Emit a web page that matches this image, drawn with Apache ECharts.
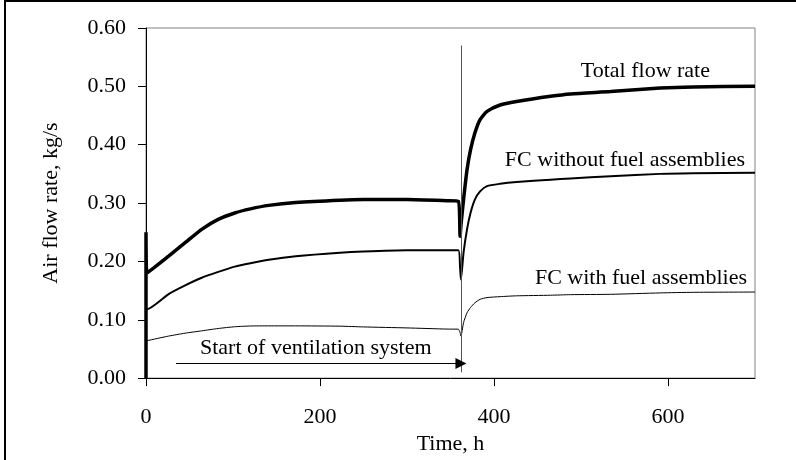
<!DOCTYPE html>
<html>
<head>
<meta charset="utf-8">
<script src="https://cdn.jsdelivr.net/npm/echarts@6/dist/echarts.min.js"></script>
<style>html,body{margin:0;padding:0;background:#fff}#c{width:796px;height:460px}</style>
</head>
<body>
<div id="c"></div>
<script>
// ---- data ----
var hours = [0, 0, 1, 26, 45, 64, 83, 102, 120, 141, 172, 223, 250, 300, 346, 359, 361, 362, 365, 369, 373, 378, 384, 392, 407, 426, 465, 488, 534, 591, 629, 700];
var totalFlow = [0, 0.25, 0.18, 0.209, 0.232, 0.255, 0.272, 0.283, 0.290, 0.296, 0.301, 0.305, 0.306, 0.306, 0.304, 0.303, 0.243, 0.262, 0.306, 0.357, 0.391, 0.420, 0.443, 0.457, 0.468, 0.474, 0.483, 0.487, 0.491, 0.497, 0.499, 0.500];
var fcWithout = [0.118, 0.118, 0.118, 0.144, 0.159, 0.172, 0.182, 0.191, 0.197, 0.203, 0.209, 0.215, 0.217, 0.219, 0.219, 0.219, 0.190, 0.169, 0.215, 0.255, 0.283, 0.306, 0.320, 0.329, 0.333, 0.336, 0.340, 0.342, 0.346, 0.350, 0.351, 0.352];
var fcWith = [0.063, 0.063, 0.064, 0.072, 0.077, 0.081, 0.085, 0.088, 0.0893, 0.0895, 0.0895, 0.089, 0.0877, 0.086, 0.084, 0.0838, 0.078, 0.072, 0.095, 0.112, 0.121, 0.129, 0.135, 0.138, 0.1396, 0.141, 0.142, 0.143, 0.1436, 0.146, 0.147, 0.1475];
var seriesNames = ['Total flow rate', 'FC without fuel assemblies', 'FC with fuel assemblies'];
var xTicks = [0, 200, 400, 600];
var switchHour = 362;
var arrowStartHour = 34.5;
var arrowLevel = 0.025;
var annotationText = 'Start of ventilation system';

function pairs(v) { return hours.map(function (h, i) { return [h, v[i]]; }); }

var FONT = '"Liberation Serif", "Times New Roman", serif';
var chart = echarts.init(document.getElementById('c'), null, {renderer: 'canvas'});
chart.setOption({
  animation: false,
  backgroundColor: '#fff',
  grid: {left: 146, top: 28, right: 41, bottom: 81, show: true, borderColor: '#808080', borderWidth: 1, backgroundColor: 'transparent'},
  xAxis: {
    type: 'value', min: 0, max: 700, interval: 200,
    name: 'Time, h', nameLocation: 'middle', nameGap: 50,
    nameTextStyle: {fontFamily: FONT, fontSize: 22, color: '#000'},
    axisLine: {show: true, lineStyle: {color: '#000', width: 1}},
    axisTick: {show: true, length: 8, lineStyle: {color: '#000'}, customValues: xTicks},
    axisLabel: {fontFamily: FONT, fontSize: 22, color: '#000', margin: 28, customValues: xTicks},
    splitLine: {show: false}
  },
  yAxis: {
    type: 'value', min: 0, max: 0.6, interval: 0.1,
    name: 'Air flow rate, kg/s', nameLocation: 'middle', nameGap: 84,
    nameTextStyle: {fontFamily: FONT, fontSize: 22, color: '#000'},
    axisLine: {show: true, lineStyle: {color: '#000', width: 1}},
    axisTick: {show: true, length: 8, lineStyle: {color: '#000'}},
    axisLabel: {fontFamily: FONT, fontSize: 22, color: '#000', margin: 20, padding: [5, 0, 0, 0], formatter: function (v) { return v.toFixed(2); }},
    splitLine: {show: false}
  },
  series: [
    {
      name: seriesNames[0], type: 'line', data: pairs(totalFlow), showSymbol: false, smooth: 0.2,
      lineStyle: {color: '#000', width: 3.5}, silent: true,
      markLine: {
        silent: true, symbol: ['none', 'none'], label: {show: false},
        lineStyle: {color: '#555', width: 1, type: 'solid'},
        data: [[{coord: [switchHour, 0.01]}, {coord: [switchHour, 0.57]}]]
      }
    },
    {
      name: seriesNames[1], type: 'line', data: pairs(fcWithout), showSymbol: false, smooth: 0.2,
      lineStyle: {color: '#000', width: 2}, silent: true,
      markLine: {
        silent: true, symbol: ['none', 'triangle'], symbolSize: [11, 11], label: {show: false},
        lineStyle: {color: '#000', width: 1, type: 'solid'},
        data: [[{coord: [arrowStartHour, arrowLevel]}, {coord: [switchHour, arrowLevel]}]]
      }
    },
    {
      name: seriesNames[2], type: 'line', data: pairs(fcWith), showSymbol: false, smooth: 0.2,
      lineStyle: {color: '#000', width: 1}, silent: true
    }
  ],
  graphic: [
    {type: 'line', shape: {x1: 5, y1: 0, x2: 5, y2: 460}, style: {stroke: '#000', lineWidth: 2}},
    {type: 'line', shape: {x1: 4, y1: 1, x2: 796, y2: 1}, style: {stroke: '#000', lineWidth: 2}},
    {type: 'text', x: 710, y: 71, style: {text: seriesNames[0], font: '22px ' + FONT, fill: '#000', textAlign: 'right', textVerticalAlign: 'middle'}},
    {type: 'text', x: 745, y: 160, style: {text: seriesNames[1], font: '22px ' + FONT, fill: '#000', textAlign: 'right', textVerticalAlign: 'middle'}},
    {type: 'text', x: 747, y: 278, style: {text: seriesNames[2], font: '22px ' + FONT, fill: '#000', textAlign: 'right', textVerticalAlign: 'middle'}},
    {type: 'text', x: 200, y: 348, style: {text: annotationText, font: '22px ' + FONT, fill: '#000', textAlign: 'left', textVerticalAlign: 'middle'}}
  ]
});
</script>
</body>
</html>
